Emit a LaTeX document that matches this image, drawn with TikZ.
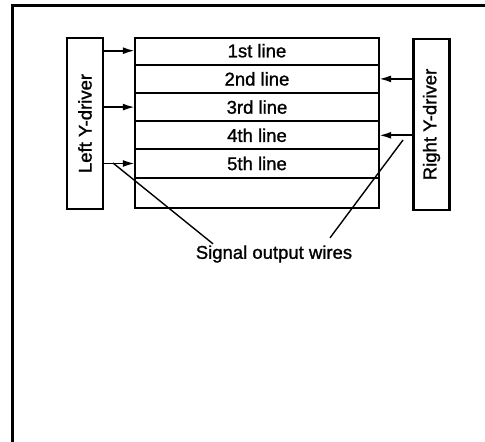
\documentclass[tikz,border=0pt]{standalone}
\usepackage{fontspec}
\setmainfont{Liberation Sans}[FakeBold=1.2]
\usetikzlibrary{arrows.meta, positioning}

\begin{document}
\begin{tikzpicture}[
    x=1pt, y=1pt,
    font=\fontsize{18.5}{21}\selectfont,
    panel/.style={rectangle, draw, line width=2.8pt, minimum width=244pt, minimum height=170pt, inner sep=0pt},
    row/.style={rectangle, minimum width=244pt, minimum height=27.8pt, inner sep=0pt},
    driver/.style={rectangle, draw, line width=2.8pt, minimum width=171pt, minimum height=36pt, inner sep=0pt, rotate=90},
    divider/.style={line width=2pt},
    feed/.style={-{Latex[length=12pt, width=7pt]}, line width=1.8pt},
    leader/.style={line width=1.4pt},
    frame/.style={line width=3pt}
]
\useasboundingbox (0,0) rectangle (485,442);

% Outer frame
\draw[frame] (12,0) -- (12,436) -- (485,436);

% Panel and its lines
\node[panel] (Panel) at (257,319) {};
\node[row, below=0pt of Panel.north] (L1) {1st line};
\node[row, below=0pt of L1] (L2) {2nd line};
\node[row, below=0pt of L2] (L3) {3rd line};
\node[row, below=0pt of L3] (L4) {4th line};
\node[row, below=0pt of L4] (L5) {5th line};

\draw[divider] (L1.south west) -- (L1.south east);
\draw[divider] (L2.south west) -- (L2.south east);
\draw[divider] (L3.south west) -- (L3.south east);
\draw[divider] (L4.south west) -- (L4.south east);
\draw[divider] (L5.south west) -- (L5.south east);

% Drivers
\node[driver] (LeftDrv) at (85,318.5) {Left Y-driver};
\node[driver] (RightDrv) at (431.5,317.5) {Right Y-driver};

% Edges
\draw[feed] (LeftDrv.south |- L1) -- (L1.west);
\draw[feed] (LeftDrv.south |- L3) -- (L3.west);
\draw[feed] (LeftDrv.south |- L5) -- (L5.west);
\draw[feed] (RightDrv.north |- L2) -- (L2.east);
\draw[feed] (RightDrv.north |- L4) -- (L4.east);

% Label
\node (Wires) at (274,188) {Signal output wires};
\coordinate (WireL) at (113,279);
\coordinate (WireR) at (403,302);
\draw[leader] (WireL) -- ([xshift=-61pt, yshift=-2pt]Wires.north);
\draw[leader] (WireR) -- ([xshift=56pt, yshift=4pt]Wires.north);

\end{tikzpicture}
\end{document}
